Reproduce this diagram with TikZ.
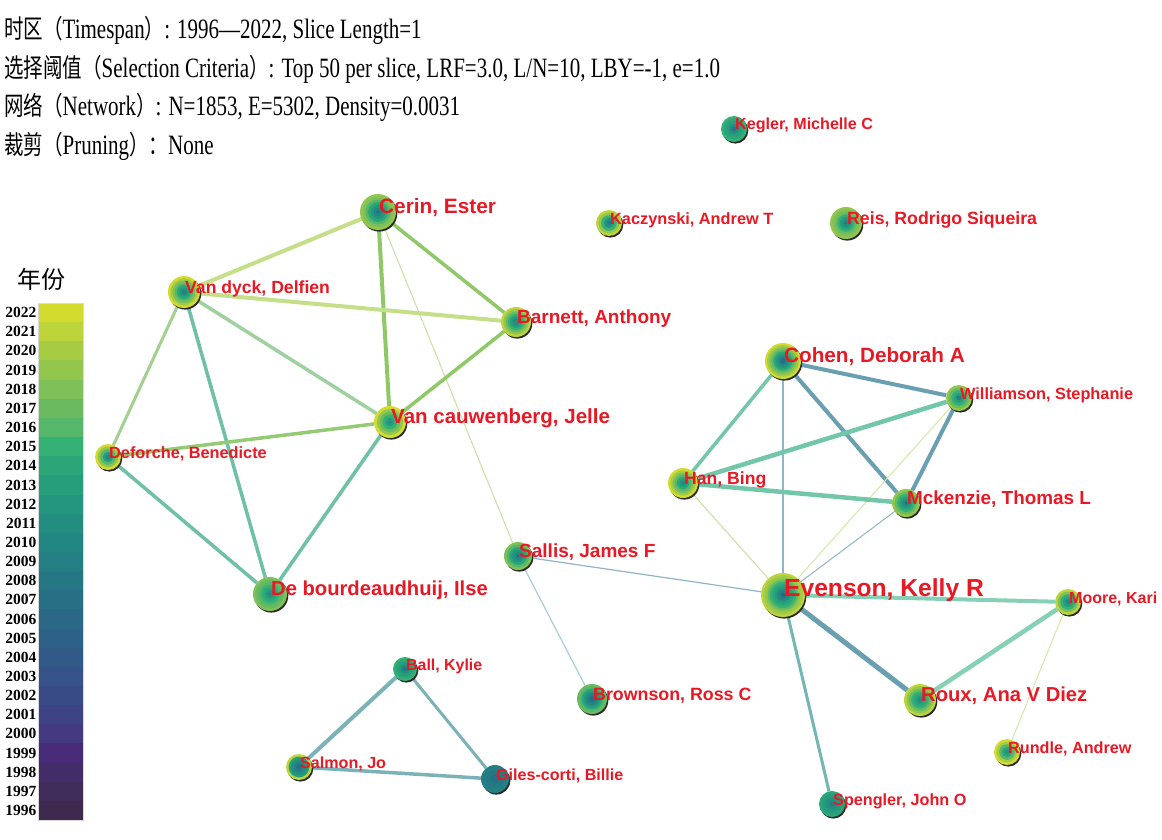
\documentclass[tikz,border=0pt]{standalone}
\usepackage{fontspec}
\setmainfont{Liberation Serif}
\newfontfamily\cjk{Noto Sans CJK SC}
\newfontfamily\labfont{Liberation Sans}
\usetikzlibrary{calc}
% legend colours
\definecolor{c96}{HTML}{3D2A4E}\definecolor{c97}{HTML}{3F2C5A}\definecolor{c98}{HTML}{432D68}
\definecolor{c99}{HTML}{482B78}\definecolor{c00}{HTML}{443A82}\definecolor{c01}{HTML}{3E4385}
\definecolor{c02}{HTML}{394B87}\definecolor{c03}{HTML}{355388}\definecolor{c04}{HTML}{315A88}
\definecolor{c05}{HTML}{2E6188}\definecolor{c06}{HTML}{2A6886}\definecolor{c07}{HTML}{276F85}
\definecolor{c08}{HTML}{257784}\definecolor{c09}{HTML}{237F83}\definecolor{c10}{HTML}{228782}
\definecolor{c11}{HTML}{238E80}\definecolor{c12}{HTML}{24967E}\definecolor{c13}{HTML}{279E7B}
\definecolor{c14}{HTML}{2BA678}\definecolor{c15}{HTML}{34B276}\definecolor{c16}{HTML}{55B76A}
\definecolor{c17}{HTML}{6ABB5F}\definecolor{c18}{HTML}{7FC058}\definecolor{c19}{HTML}{93C64D}
\definecolor{c20}{HTML}{A6CC44}\definecolor{c21}{HTML}{BDD53A}\definecolor{c22}{HTML}{D3DB2E}
\definecolor{labred}{RGB}{232,24,36}
\definecolor{shadowc}{HTML}{2A2A2A}
% edge colours
\definecolor{eYG}{HTML}{C5DF88}
\definecolor{eG}{HTML}{8FC866}
\definecolor{eLG}{HTML}{9FD0A0}
\definecolor{eDG}{HTML}{A3D090}
\definecolor{eT}{HTML}{6EC0A6}
\definecolor{eGG}{HTML}{93CB72}
\definecolor{eThin}{HTML}{C8E0A0}
\definecolor{eBl}{HTML}{6A9FB2}
\definecolor{eTg}{HTML}{72C6AA}
\definecolor{eThinB}{HTML}{90B4C8}
\definecolor{eThinL}{HTML}{D3E8A8}
\definecolor{eMint}{HTML}{86D0B5}
\definecolor{eSp}{HTML}{72B6B6}
\definecolor{eBr}{HTML}{A6D0D6}
\definecolor{eBall}{HTML}{7AB2B8}
\tikzset{
  anode/.style={circle, inner sep=0pt, outer sep=0pt},
  hdrs/.style={anchor=west, inner sep=0pt},
  yrlab/.style={anchor=east, inner sep=0pt, font=\bfseries\fontsize{15.5}{16}\selectfont},
}
\newcommand\mknode[4]{\node[anode, minimum size={2*#4pt}] (#1) at (#2,#3) {};}
\newcommand\paint[3]{%
  \fill[shadowc] ($(#1.center)+(1.3,1.6)$) circle[radius=#2pt];
  \foreach \f/\c in {#3}{\fill[\c] (#1.center) circle[radius={#2pt*\f}];}%
}
\newcommand\lbl[3]{\node[text=labred, inner sep=0pt, anchor=base west,
  font=\labfont\bfseries\fontsize{#2}{#2}\selectfont] (#1l) at ($(#1.center)+(1,1)$) {#3};}
\newcommand\ed[4]{\draw[draw=#3, line width=#4pt] (#1) -- (#2);}
\newcommand\hdr[1]{\scalebox{0.75}[1]{\fontsize{28}{28}\selectfont #1}}
\newcommand\cj[1]{{\cjk\fontsize{26}{26}\selectfont #1}}
\begin{document}
\begin{tikzpicture}[x=1pt,y=-1pt]
\useasboundingbox (0,0) rectangle (1162,840);
\fill[white] (0,0) rectangle (1162,840);
% header
\node[hdrs] (h1) at (4,30) {\hdr{\cj{时区（}Timespan\cj{）}: 1996—2022, Slice Length=1}};
\node[hdrs] (h2) at (4,69) {\hdr{\cj{选择阈值（}Selection Criteria\cj{）}: Top 50 per slice, LRF=3.0, L/N=10, LBY=-1, e=1.0}};
\node[hdrs] (h3) at (4,107) {\hdr{\cj{网络（}Network\cj{）}: N=1853, E=5302, Density=0.0031}};
\node[hdrs] (h4) at (4,146) {\hdr{\cj{裁剪（}Pruning\cj{）：}None}};
% legend
\node[inner sep=0pt] (ltitle) at (41,279) {\cjk\fontsize{24}{24}\selectfont 年份};
\foreach \c/\t [count=\i from 0] in {c22/2022,c21/2021,c20/2020,c19/2019,c18/2018,c17/2017,c16/2016,c15/2015,c14/2014,c13/2013,c12/2012,c11/2011,c10/2010,c09/2009,c08/2008,c07/2007,c06/2006,c05/2005,c04/2004,c03/2003,c02/2002,c01/2001,c00/2000,c99/1999,c98/1998,c97/1997,c96/1996}{
  \fill[\c] (38,{303+\i*19.15}) rectangle (83,{303+(\i+1)*19.15+0.3});
  \node[yrlab] (yr\i) at (36.5,{312.6+\i*19.15}) {\t};
}
\draw[black!15, line width=0.6pt] (38,303) rectangle (83,820);
% nodes
\mknode{cerin}{378}{212}{18}
\mknode{vandyck}{184}{292}{16}
\mknode{barnett}{516}{322}{15}
\mknode{vancauw}{390}{422}{16}
\mknode{deforche}{108}{457}{13}
\mknode{debourd}{270}{594}{17}
\mknode{kegler}{734}{129}{13}
\mknode{kaczynski}{609}{223}{13}
\mknode{reis}{846}{223}{16}
\mknode{cohen}{783}{361}{18}
\mknode{williamson}{959}{398}{13}
\mknode{han}{683}{483}{15}
\mknode{mckenzie}{906}{503}{14}
\mknode{sallis}{518}{556}{14}
\mknode{evenson}{783}{595}{22}
\mknode{moore}{1068}{602}{13}
\mknode{roux}{920}{700}{16}
\mknode{rundle}{1007}{752}{13}
\mknode{spengler}{832}{804}{13}
\mknode{ball}{405}{669}{12}
\mknode{brownson}{592}{699}{15}
\mknode{salmon}{299}{767}{13}
\mknode{giles}{495}{779}{14}
% edges
\ed{cerin}{vandyck}{eYG}{4}
\ed{cerin}{barnett}{eG}{3.5}
\ed{cerin}{vancauw}{eG}{4}
\ed{cerin}{sallis}{eThin}{1}
\ed{vandyck}{barnett}{eYG}{4}
\ed{vandyck}{vancauw}{eLG}{3.5}
\ed{vandyck}{deforche}{eDG}{3}
\ed{vandyck}{debourd}{eT}{3.5}
\ed{barnett}{vancauw}{eG}{3.5}
\ed{deforche}{vancauw}{eGG}{3.5}
\ed{deforche}{debourd}{eT}{3.5}
\ed{vancauw}{debourd}{eT}{3.5}
\ed{cohen}{williamson}{eBl}{4}
\ed{cohen}{han}{eTg}{3.5}
\ed{cohen}{mckenzie}{eBl}{4}
\ed{cohen}{evenson}{eThinB}{1.2}
\ed{williamson}{han}{eTg}{4.5}
\ed{williamson}{mckenzie}{eBl}{4}
\ed{williamson}{evenson}{eThinL}{1}
\ed{han}{mckenzie}{eTg}{4.5}
\ed{han}{evenson}{eThin}{1}
\ed{mckenzie}{evenson}{eThinB}{1}
\ed{evenson}{moore}{eMint}{4}
\ed{evenson}{roux}{eBl}{5}
\ed{evenson}{spengler}{eSp}{3}
\ed{evenson}{sallis}{eThinB}{1.2}
\ed{moore}{roux}{eMint}{4.5}
\ed{moore}{rundle}{eThinL}{1}
\ed{sallis}{brownson}{eBr}{1.2}
\ed{ball}{salmon}{eBall}{4}
\ed{ball}{giles}{eBall}{3}
\ed{salmon}{giles}{eBall}{3.5}
% node paint
\paint{cerin}{18}{1/c19,.85/c18,.7/c16,.55/c14,.4/c12,.25/c10,.1/c07}
\paint{vandyck}{16}{1/c22,.85/c20,.72/c18,.58/c16,.44/c14,.3/c12,.16/c10}
\paint{barnett}{15}{1/c21,.85/c19,.7/c17,.55/c15,.4/c13,.25/c11}
\paint{vancauw}{16}{1/c22,.82/c19,.64/c17,.46/c15,.28/c13,.12/c11}
\paint{deforche}{13}{1/c22,.8/c19,.6/c16,.4/c13,.2/c10}
\paint{debourd}{17}{1/c18,.85/c17,.7/c16,.55/c15,.4/c14,.25/c12,.1/c10}
\paint{kegler}{13}{1/c15,.8/c14,.6/c13,.4/c11,.2/c08}
\paint{kaczynski}{13}{1/c21,.8/c19,.6/c15,.4/c12,.2/c09}
\paint{reis}{16}{1/c19,.85/c18,.7/c17,.55/c15,.4/c13,.25/c11,.1/c08}
\paint{cohen}{18}{1/c22,.88/c20,.76/c18,.64/c16,.52/c14,.4/c12,.28/c10,.16/c07}
\paint{williamson}{13}{1/c19,.8/c17,.6/c15,.4/c13,.2/c09}
\paint{han}{15}{1/c22,.85/c20,.7/c18,.55/c16,.4/c14,.25/c12,.1/c10}
\paint{mckenzie}{14}{1/c19,.82/c17,.64/c15,.46/c13,.28/c11,.12/c07}
\paint{sallis}{14}{1/c18,.82/c16,.64/c14,.46/c12,.28/c10,.12/c06}
\paint{evenson}{22}{1/c21,.9/c20,.8/c19,.7/c17,.6/c15,.5/c14,.4/c13,.3/c11,.2/c09,.1/c06}
\paint{moore}{13}{1/c21,.8/c18,.6/c15,.4/c13,.2/c10}
\paint{roux}{16}{1/c21,.85/c19,.7/c17,.55/c15,.4/c14,.25/c12,.1/c09}
\paint{rundle}{13}{1/c22,.8/c20,.6/c16,.4/c14,.2/c12}
\paint{spengler}{13}{1/c14,.8/c13,.6/c12,.4/c11,.2/c09}
\paint{ball}{12}{1/c15,.8/c14,.6/c13,.4/c11,.2/c08}
\paint{brownson}{15}{1/c17,.85/c16,.7/c14,.55/c12,.4/c10,.25/c08,.1/c06}
\paint{salmon}{13}{1/c21,.8/c13,.6/c11,.4/c09,.2/c07}
\paint{giles}{14}{1/c09,.6/c08,.3/c07}
% labels
\lbl{cerin}{20.8}{Cerin, Ester}
\lbl{vandyck}{17.6}{Van dyck, Delfien}
\lbl{barnett}{19}{Barnett, Anthony}
\lbl{vancauw}{20.5}{Van cauwenberg, Jelle}
\lbl{deforche}{16.3}{Deforche, Benedicte}
\lbl{debourd}{20.2}{De bourdeaudhuij, Ilse}
\lbl{kegler}{16.1}{Kegler, Michelle C}
\lbl{kaczynski}{16.3}{Kaczynski, Andrew T}
\lbl{reis}{17.7}{Reis, Rodrigo Siqueira}
\lbl{cohen}{20.7}{Cohen, Deborah A}
\lbl{williamson}{16.3}{Williamson, Stephanie}
\lbl{han}{17.6}{Han, Bing}
\lbl{mckenzie}{18.9}{Mckenzie, Thomas L}
\lbl{sallis}{19}{Sallis, James F}
\lbl{evenson}{24.6}{Evenson, Kelly R}
\lbl{moore}{16}{Moore, Kari}
\lbl{roux}{20.2}{Roux, Ana V Diez}
\lbl{rundle}{16.2}{Rundle, Andrew}
\lbl{spengler}{16.2}{Spengler, John O}
\lbl{ball}{15.9}{Ball, Kylie}
\lbl{brownson}{17.8}{Brownson, Ross C}
\lbl{salmon}{16.1}{Salmon, Jo}
\lbl{giles}{16.1}{Giles-corti, Billie}
\end{tikzpicture}
\end{document}
